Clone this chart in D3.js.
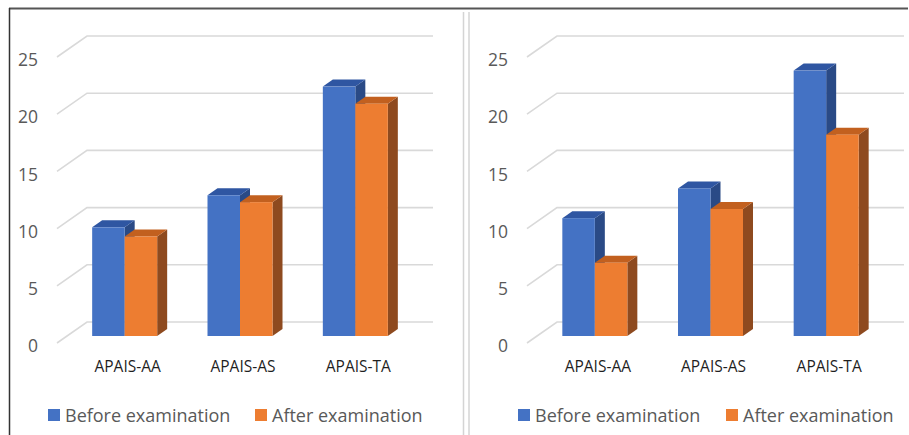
<!DOCTYPE html>
<html>
<head>
<meta charset="utf-8">
<script src="https://cdn.jsdelivr.net/npm/d3@7/dist/d3.min.js"></script>
<style>
  html, body { margin: 0; padding: 0; background: #fff; }
  svg { display: block; }
  text { font-family: "Open Sans", "Noto Sans", sans-serif; }
</style>
</head>
<body>
<script>
// Category labels, series and their values for the two panels
const categories = ["APAIS-AA", "APAIS-AS", "APAIS-TA"];
const seriesNames = ["Before examination", "After examination"];
const leftBefore = [9.5, 12.3, 21.8];
const leftAfter = [8.7, 11.7, 20.3];
const rightBefore = [10.3, 12.9, 23.2];
const rightAfter = [6.4, 11.1, 17.6];
const yTicks = [0, 5, 10, 15, 20, 25];

const W = 909, H = 435;
const svg = d3.select("body").append("svg").attr("width", W).attr("height", H);

// frame: dark top and left rules, light double divider between panels
svg.append("line").attr("x1", 9).attr("x2", 908).attr("y1", 8.5).attr("y2", 8.5)
  .attr("stroke", "#555").attr("stroke-width", 2);
svg.append("line").attr("x1", 9.5).attr("x2", 9.5).attr("y1", 8).attr("y2", H)
  .attr("stroke", "#333").attr("stroke-width", 1.5);
[463.5, 469].forEach(x => svg.append("line").attr("x1", x).attr("x2", x)
  .attr("y1", 12).attr("y2", H).attr("stroke", "#d4d4d4").attr("stroke-width", 1.5));

const colors = {
  front: ["#4472C4", "#ED7D31"],
  top: ["#2F56A2", "#C2601F"],
  side: ["#2A4A86", "#8E4A1F"]
};

// 3-D depth of the plot floor: back wall is offset by (dx, dy)
const DX = 30, DY = -21;

function panel(opt) {
  const g = svg.append("g");
  const y = d3.scaleLinear().domain([0, 25]).range([343, 57]);
  const x = d3.scaleBand().domain(categories).range([opt.x0, opt.x1]).paddingInner(0).paddingOuter(0);
  const barW = 32.5;

  // gridlines: floor-to-wall diagonal plus the back-wall rule
  g.selectAll(".grid").data(yTicks).join("polyline")
    .attr("fill", "none").attr("stroke", "#d9d9d9").attr("stroke-width", 1.6)
    .attr("points", d => {
      const yf = y(d);
      return [[opt.x0, yf], [opt.x0 + DX, yf + DY], [opt.x1 + DX, yf + DY]].map(p => p.join(",")).join(" ");
    });

  // y axis labels along the front edge
  const axis = d3.axisLeft(y).tickValues(yTicks).tickSize(0).tickPadding(0);
  const ag = g.append("g").attr("transform", `translate(${opt.labelX},3)`).call(axis);
  ag.select(".domain").remove();
  ag.selectAll("text").attr("font-size", 17.5).attr("fill", "#595959")
    .style("font-family", '"Open Sans", sans-serif');

  // bars sit in the middle third of the floor depth
  const fdx = DX / 3, fdy = DY / 3;
  const series = [opt.before, opt.after];
  series.forEach((vals, si) => {
    categories.forEach((c, ci) => {
      const v = vals[ci];
      const cx = x(c) + x.bandwidth() / 2 + fdx;
      const xl = cx - barW + si * barW, xr = xl + barW;
      const yb = y(0) + fdy, yt = y(v) + fdy;
      const bar = g.append("g");
      // right side face
      bar.append("polygon").attr("fill", colors.side[si])
        .attr("points", [[xr, yt], [xr + fdx, yt + fdy], [xr + fdx, yb + fdy], [xr, yb]].map(p => p.join(",")).join(" "));
      // top face
      bar.append("polygon").attr("fill", colors.top[si])
        .attr("points", [[xl, yt], [xl + fdx, yt + fdy], [xr + fdx, yt + fdy], [xr, yt]].map(p => p.join(",")).join(" "));
      // front face
      bar.append("rect").attr("x", xl).attr("y", yt).attr("width", barW).attr("height", yb - yt)
        .attr("fill", colors.front[si]);
    });
  });

  // category labels
  g.selectAll(".cat").data(categories).join("text")
    .attr("x", d => x(d) + x.bandwidth() / 2 + fdx + 3)
    .attr("y", 372)
    .attr("text-anchor", "middle")
    .attr("font-size", 15.5).attr("fill", "#1f1f1f")
    .text(d => d);

  // legend
  seriesNames.forEach((name, si) => {
    const lx = opt.legendX[si];
    g.append("rect").attr("x", lx).attr("y", 409).attr("width", 12).attr("height", 12)
      .attr("fill", colors.front[si]);
    g.append("text").attr("x", lx + 17).attr("y", 422)
      .attr("font-size", 18).attr("fill", "#595959").text(name);
  });
}

panel({ x0: 57, x1: 403, labelX: 38, before: leftBefore, after: leftAfter, legendX: [48, 255] });
panel({ x0: 527, x1: 874, labelX: 508, before: rightBefore, after: rightAfter, legendX: [518, 726] });
</script>
</body>
</html>
